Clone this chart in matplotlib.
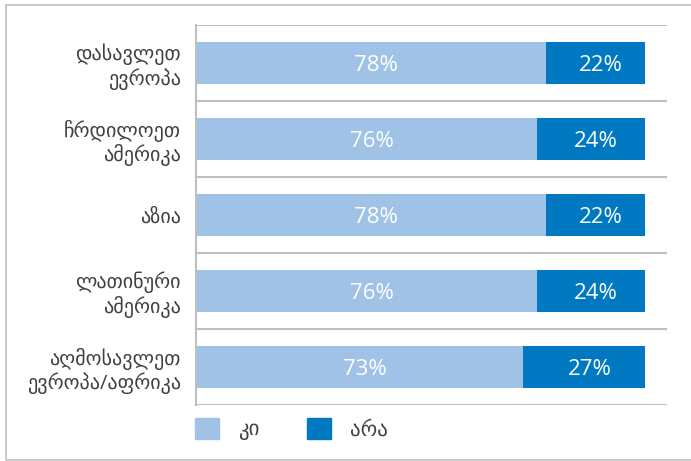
import matplotlib.pyplot as plt
from matplotlib.patches import Rectangle, Patch

regions = ["დასავლეთ\nევროპა", "ჩრდილოეთ\nამერიკა", "აზია",
           "ლათინური\nამერიკა", "აღმოსავლეთ\nევროპა/აფრიკა"]
yes_vals = [78, 76, 78, 76, 73]
no_vals = [22, 24, 22, 24, 27]
legend_labels = ["კი", "არა"]

light = "#9FC2E6"
dark = "#0079C2"
grid_c = "#BFBFBF"
fonts = ["Open Sans", "DejaVu Sans"]

plt.rcParams['font.family'] = fonts

fig = plt.figure(figsize=(6.91, 4.61), dpi=100)
ax = fig.add_axes([196 / 691, 1 - 405 / 461, 471 / 691, 380 / 461])

# outer frame (no right edge visible in the original)
fig.patches.append(Rectangle((6 / 691, 0.8 / 461), 1.0, 1 - 6.3 / 461,
                             transform=fig.transFigure, fill=False,
                             edgecolor=grid_c, linewidth=1.2))

y = list(range(len(regions)))
ax.barh(y, yes_vals, height=0.54, color=light)
ax.barh(y, no_vals, left=yes_vals, height=0.54, color=dark)

for i in y:
    ax.text(yes_vals[i] / 2 + 1.2, i, f"{yes_vals[i]}%", ha="center",
            va="center_baseline", color="white", fontsize=16)
    ax.text(yes_vals[i] + no_vals[i] / 2 + 1.2, i, f"{no_vals[i]}%", ha="center",
            va="center_baseline", color="white", fontsize=16)

# separators between categories
for b in range(len(regions) + 1):
    ax.axhline(b - 0.5, color=grid_c, linewidth=1.5, zorder=0)

ax.set_xlim(0, 105)
ax.set_ylim(len(regions) - 0.5, -0.5)
ax.set_yticks(y)
ax.set_yticklabels(regions, fontsize=14.5, color="#404040", linespacing=1.15)
ax.tick_params(axis="y", length=0, pad=11)
ax.set_xticks([])
for s in ["top", "right", "bottom"]:
    ax.spines[s].set_visible(False)
ax.spines["left"].set_color(grid_c)
ax.spines["left"].set_linewidth(1.5)

handles = [Patch(color=light), Patch(color=dark)]
fig.legend(handles, legend_labels, loc="upper left",
           bbox_to_anchor=(195 / 691, 1 - 418 / 461), ncol=2, frameon=False,
           borderpad=0, borderaxespad=0,
           fontsize=15, handlelength=1.15, handleheight=1.15, handletextpad=0.9,
           columnspacing=2.3, labelcolor="#404040")

fig.savefig("out.png", dpi=100)
